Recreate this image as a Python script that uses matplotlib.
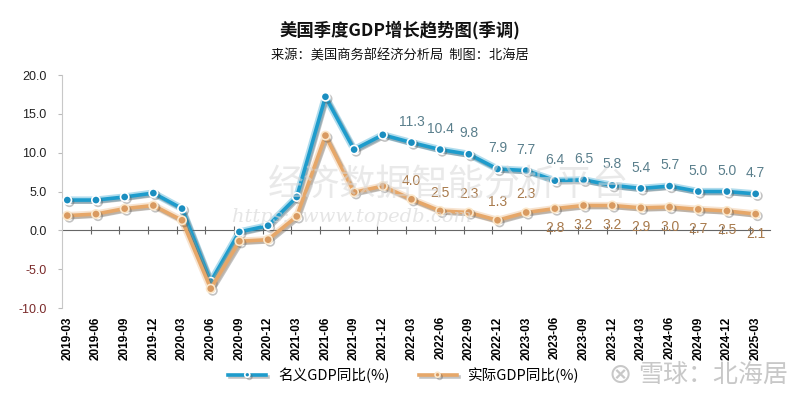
import matplotlib
matplotlib.use("Agg")
import matplotlib.pyplot as plt
import matplotlib.patheffects as pe
import numpy as np

plt.rcParams['font.family'] = ['Noto Sans CJK SC', 'DejaVu Sans']

quarters = ['2019-03', '2019-06', '2019-09', '2019-12',
            '2020-03', '2020-06', '2020-09', '2020-12',
            '2021-03', '2021-06', '2021-09', '2021-12',
            '2022-03', '2022-06', '2022-09', '2022-12',
            '2023-03', '2023-06', '2023-09', '2023-12',
            '2024-03', '2024-06', '2024-09', '2024-12',
            '2025-03']
nominal = [3.9, 3.9, 4.3, 4.8, 2.8, -6.6, -0.2, 0.6, 4.3, 17.2, 10.4, 12.3,
           11.3, 10.4, 9.8, 7.9, 7.7, 6.4, 6.5, 5.8, 5.4, 5.7, 5.0, 5.0, 4.7]
real = [1.9, 2.1, 2.8, 3.2, 1.3, -7.5, -1.4, -1.2, 1.8, 12.2, 4.9, 5.7,
        4.0, 2.5, 2.3, 1.3, 2.3, 2.8, 3.2, 3.2, 2.9, 3.0, 2.7, 2.5, 2.1]
label_from = 12          # values shown from 2022-03 on
real_below_from = 17     # real labels below the line from 2023-06 on

BLUE = '#1e9ccc'
ORANGE = '#e6a769'
narrow = ['Liberation Sans Narrow', 'Liberation Sans', 'DejaVu Sans']

fig = plt.figure(figsize=(8, 3.99), dpi=100)
fig.patch.set_facecolor('white')
ax = fig.add_axes([0.0775, 0.228, 0.885, 0.584])

x = np.arange(len(quarters))

# faint watermark in the middle
fig.text(0.56, 0.535, '经济数据智能分析平台', fontsize=26, color='#d8d8d8',
         alpha=0.55, ha='center', va='center', zorder=0)
fig.text(0.44, 0.455, 'https:  www.topedb.com', fontsize=14, color='#d8d8d8',
         alpha=0.65, ha='center', va='center', style='italic', family='DejaVu Serif', zorder=0)

shadow = [pe.SimpleLineShadow(offset=(1.5, -1.5), shadow_color='#555555', alpha=0.35),
          pe.Normal()]
ax.plot(x, nominal, color=BLUE, lw=5.2, alpha=0.35, zorder=2, solid_capstyle='round')
ax.plot(x, nominal, color=BLUE, lw=2.6, marker='o', ms=6, mfc='#1a8ec0', mec='white',
        mew=1.2, zorder=3, label='名义GDP同比(%)', path_effects=shadow)
ax.plot(x, real, color=ORANGE, lw=5.2, alpha=0.3, zorder=4, solid_capstyle='round')
ax.plot(x, real, color=ORANGE, lw=2.6, marker='o', ms=6, mfc='#d99a60', mec='#fbe8cc',
        mew=1.2, zorder=5, label='实际GDP同比(%)', path_effects=shadow)

for i in range(label_from, len(quarters)):
    ax.annotate(f'{nominal[i]:.1f}', (x[i], nominal[i]), xytext=(0, 10),
                textcoords='offset points', ha='center', va='bottom',
                fontsize=10, color='#5a7f8c', family=narrow, zorder=6)
    off = (0, -9) if i >= real_below_from else (0, 8)
    va = 'top' if i >= real_below_from else 'bottom'
    ax.annotate(f'{real[i]:.1f}', (x[i], real[i]), xytext=off,
                textcoords='offset points', ha='center', va=va,
                fontsize=10, color='#a87a4c', family=narrow, zorder=6)

ax.set_ylim(-10, 20)
ax.set_xlim(-0.185, 24.5)
ax.set_yticks(np.arange(-10, 21, 5))
ax.set_yticklabels([f'{v:.1f}' for v in np.arange(-10, 21, 5)], family=narrow, fontsize=9)
for t, v in zip(ax.get_yticklabels(), np.arange(-10, 21, 5)):
    t.set_color('#7a2a2a' if v < 0 else '#222222')
ax.tick_params(axis='y', length=3, color='#bbbbbb', pad=8)

ax.set_xticks(x)
ax.set_xticklabels(quarters, rotation=90, fontsize=8.5, fontweight='bold', family=narrow)
ax.tick_params(axis='x', length=0, pad=6)

for s in ['top', 'right', 'bottom']:
    ax.spines[s].set_visible(False)
ax.spines['left'].set_color('#c8c8c8')

# zero axis line with category tick marks
zero_ax = ax.secondary_xaxis(1 / 3)
zero_ax.set_xticks(np.arange(len(quarters)) - 0.185 + 1)
zero_ax.set_xticklabels([])
zero_ax.tick_params(direction='inout', length=6, color='#666666')
zero_ax.spines['bottom'].set_color('#666666')
zero_ax.spines['top'].set_color('#666666')

fig.text(0.5, 0.925, '美国季度GDP增长趋势图(季调)', ha='center', va='center',
         fontsize=12.5, fontweight='bold', color='#111111')
fig.text(0.5, 0.86, '来源：美国商务部经济分析局  制图：北海居', ha='center', va='center',
         fontsize=9.5, color='#111111')

fig.legend(loc='center', bbox_to_anchor=(0.505, 0.06), ncol=2, frameon=False,
           fontsize=10.5, handlelength=2.6, columnspacing=2.0, markerscale=0.6)

fig.text(0.892, 0.06, '雪球：北海居', ha='center', va='center', fontsize=18,
         color='#c8c8c8')
fig.text(0.775, 0.06, '⊗', ha='center', va='center', fontsize=20,
         color='#c8c8c8', family='DejaVu Sans')

fig.savefig('out.png', dpi=100)
